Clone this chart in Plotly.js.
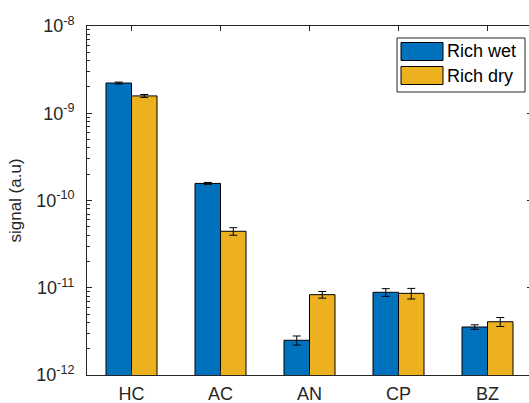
<!DOCTYPE html>
<html>
<head>
<meta charset="utf-8">
<script src="https://cdn.plot.ly/plotly-3.0.1.min.js"></script>
<style>
html,body{margin:0;padding:0;overflow:hidden;background:#fff;}
#chart{width:535px;height:403px;}
</style>
</head>
<body>
<div id="chart"></div>
<script>
// ---- data ----
const categories = ["HC", "AC", "AN", "CP", "BZ"];
const seriesNames = ["Rich wet", "Rich dry"];
const richWet    = [2.22e-9, 1.57e-10, 2.50e-12, 8.87e-12, 3.55e-12];
const richWetErr = [5.5e-11, 4.0e-12, 3.0e-13, 9.0e-13, 2.1e-13];
const richDry    = [1.58e-9, 4.44e-11, 8.33e-12, 8.63e-12, 4.08e-12];
const richDryErr = [6.0e-11, 4.4e-12, 7.3e-13, 1.2e-12, 4.8e-13];
const yTickVals  = [1e-12, 1e-11, 1e-10, 1e-9, 1e-8];
const yTickText  = ["10<sup>-12</sup>", "10<sup>-11</sup>", "10<sup>-10</sup>", "10<sup>-9</sup>", "10<sup>-8</sup>"];

const colors = ["#0072BD", "#EDB120"];
const xIdx = categories.map((c, i) => i + 1);
const FONT = "Liberation Sans, Arial, Helvetica, sans-serif";
const AX = "#262626";

function barTrace(name, y, err, color) {
  return {
    type: "bar", name: name, x: xIdx, y: y,
    marker: {color: color, line: {color: "#000", width: 1}},
    error_y: {type: "data", array: err, visible: true, color: "#000", thickness: 1, width: 4},
    showlegend: false
  };
}

const data = [
  barTrace(seriesNames[0], richWet, richWetErr, colors[0]),
  barTrace(seriesNames[1], richDry, richDryErr, colors[1])
];

// plot area in pixels (for legend placement)
const L = 87, T = 26, W = 445, H = 349;
const px = x => (x - L) / W;
const py = y => 1 - (y - T) / H;

const shapes = [
  {type: "rect", xref: "paper", yref: "paper", x0: px(397), x1: px(525), y0: py(38), y1: py(92),
   fillcolor: "#fff", line: {color: AX, width: 1}, layer: "above"}
];
const annotations = [];
const rowY = [51.5, 75.5];
seriesNames.forEach((n, i) => {
  shapes.push({type: "rect", xref: "paper", yref: "paper", x0: px(401), x1: px(443),
    y0: py(rowY[i] - 9), y1: py(rowY[i] + 9), fillcolor: colors[i],
    line: {color: "#000", width: 1}, layer: "above"});
  annotations.push({xref: "paper", yref: "paper", x: px(445), y: py(rowY[i]),
    xanchor: "left", yanchor: "middle", showarrow: false, text: n,
    font: {family: FONT, size: 18, color: "#000"}});
});

const layout = {
  width: 535, height: 403,
  margin: {l: L, r: 535 - L - W, t: T, b: 403 - T - H},
  paper_bgcolor: "#fff", plot_bgcolor: "#fff",
  barmode: "group", bargap: 0.427, bargroupgap: 0,
  font: {family: FONT, size: 17, color: AX},
  xaxis: {
    range: [0.5, 5.5], tickvals: xIdx, ticktext: categories,
    ticks: "inside", ticklen: 5, tickcolor: AX, tickwidth: 1,
    showline: true, linecolor: AX, linewidth: 1, mirror: "ticks",
    showgrid: false, zeroline: false, ticklabelstandoff: 2,
    tickfont: {family: FONT, size: 18, color: AX}
  },
  yaxis: {
    type: "log", range: [-12, -8], tickvals: yTickVals, ticktext: yTickText,
    ticks: "inside", ticklen: 5, tickcolor: AX, tickwidth: 1,
    minor: {ticks: "inside", ticklen: 3, tickcolor: AX, dtick: "D1", showgrid: false},
    showline: true, linecolor: AX, linewidth: 1, mirror: "ticks",
    showgrid: false, zeroline: false, ticklabelstandoff: 8,
    tickfont: {family: FONT, size: 18, color: AX},
    title: {text: "signal (a.u)", font: {family: FONT, size: 17, color: AX}, standoff: 10}
  },
  shapes: shapes,
  annotations: annotations
};

Plotly.newPlot("chart", data, layout, {displayModeBar: false, staticPlot: true});
</script>
</body>
</html>
